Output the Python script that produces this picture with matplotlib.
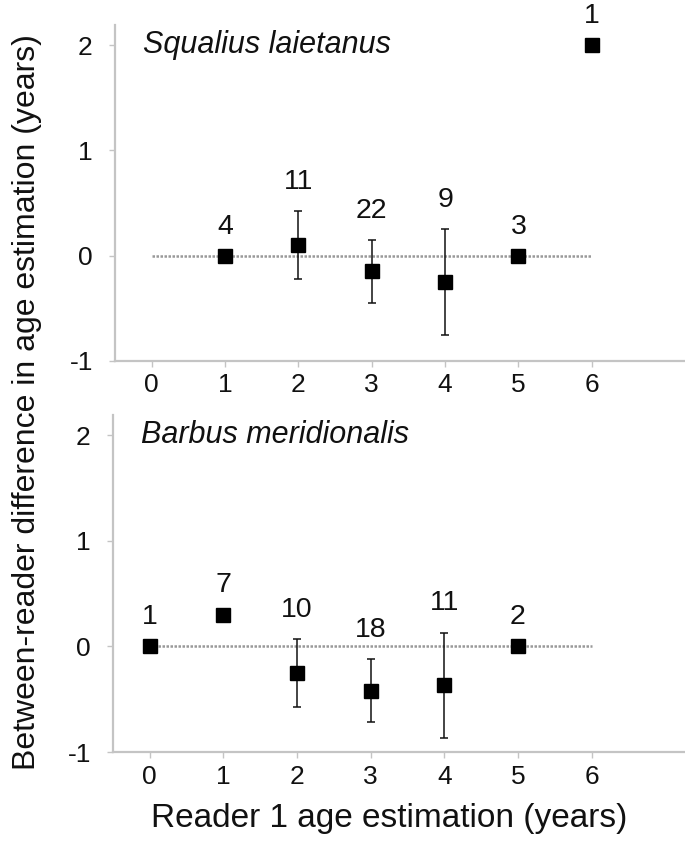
import matplotlib
matplotlib.use("Agg")
import matplotlib.pyplot as plt
import numpy as np

plt.rcParams['font.family'] = ['Liberation Sans', 'DejaVu Sans']
plt.rcParams['axes.unicode_minus'] = False

# Squalius laietanus
sq_age = [1, 2, 3, 4, 5, 6]
sq_mean = [0.0, 0.10, -0.15, -0.25, 0.0, 2.0]
sq_sd = [0.0, 0.32, 0.30, 0.50, 0.0, 0.0]
sq_n = [4, 11, 22, 9, 3, 1]

# Barbus meridionalis
bm_age = [0, 1, 2, 3, 4, 5]
bm_mean = [0.0, 0.30, -0.25, -0.42, -0.37, 0.0]
bm_sd = [0.0, 0.0, 0.32, 0.30, 0.50, 0.0]
bm_n = [1, 7, 10, 18, 11, 2]

species = ["Squalius laietanus", "Barbus meridionalis"]
x_ticks = [0, 1, 2, 3, 4, 5, 6]
y_ticks = [-1, 0, 1, 2]

W, H = 685, 849
fig = plt.figure(figsize=(W / 100, H / 100), dpi=100)

spine_col = '#c4c4c4'


def panel(rect, ages, means, sds, ns, title):
    ax = fig.add_axes(rect)
    ax.set_xlim(-0.5, 7.27)
    ax.set_ylim(-1, 2.19)
    for s in ['top', 'right']:
        ax.spines[s].set_visible(False)
    for s in ['left', 'bottom']:
        ax.spines[s].set_color(spine_col)
        ax.spines[s].set_linewidth(1.6)
    ax.set_xticks(x_ticks)
    ax.set_yticks(y_ticks)
    ax.tick_params(axis='both', colors=spine_col, length=4, width=1.0,
                   labelcolor='#111111', labelsize=19)
    ax.tick_params(axis='y', pad=12)
    ax.tick_params(axis='x', pad=5)
    # zero reference line
    ax.plot([0, 6], [0, 0], color='#999999', lw=1.8, ls=(0, (1, 0.6)), zorder=1)
    # error bars only where there is spread
    for a, m, s in zip(ages, means, sds):
        if s > 0:
            ax.errorbar(a, m, yerr=s, fmt='none', ecolor='#111111',
                        elinewidth=1.1, capsize=3, capthick=1.1, zorder=2)
    ax.plot(ages, means, ls='none', marker='s', ms=10.5, color='black',
            mec='black', zorder=3)
    for a, m, s, n in zip(ages, means, sds, ns):
        ax.annotate(str(n), (a, m + s), xytext=(0, 21), textcoords='offset points',
                    ha='center', va='center', fontsize=20.5, color='#111111',
                    annotation_clip=False)
    ax.text(-0.12, 2.0, title, style='italic', fontsize=22, color='#111111',
            ha='left', va='center')
    return ax


top = panel([115 / W, 1 - 361 / H, 1 - 115 / W, (361 - 25) / H],
            sq_age, sq_mean, sq_sd, sq_n, species[0])
bot = panel([113 / W, 1 - 752 / H, 1 - 113 / W, (752 - 415) / H],
            bm_age, bm_mean, bm_sd, bm_n, species[1])

fig.text(27 / W, 1 - 402 / H, "Between-reader difference in age estimation (years)",
         rotation=90, ha='center', va='center', fontsize=23, color='#111111')
fig.text(389 / W, 1 - 818 / H, "Reader 1 age estimation (years)",
         ha='center', va='center', fontsize=24, color='#111111')

fig.savefig("out.png", dpi=100, facecolor='white')
